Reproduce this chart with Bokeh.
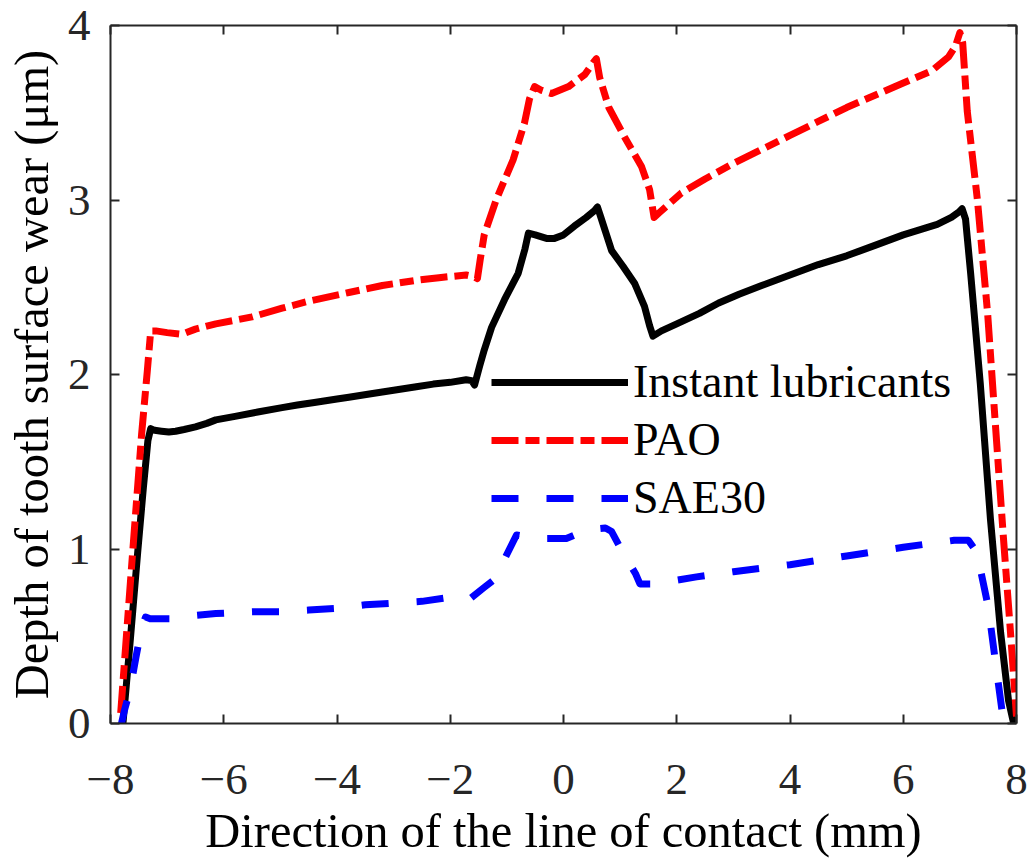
from bokeh.plotting import figure
from bokeh.models import LinearAxis, Legend, LegendItem, FixedTicker, Range1d
from bokeh.embed import file_html
from bokeh.resources import INLINE

# ---------------- data ----------------
x_ticks = [-8, -6, -4, -2, 0, 2, 4, 6, 8]
y_ticks = [0, 1, 2, 3, 4]

inst_x = [-7.78, -7.65, -7.52, -7.42, -7.34, -7.29, -7.22, -7.10, -6.97, -6.85, -6.70, -6.50,
          -6.30, -6.14, -5.80, -5.40, -4.97, -4.70, -4.40, -4.00, -3.79, -3.40, -3.00, -2.60,
          -2.30, -2.00, -1.72, -1.62, -1.57, -1.48, -1.40, -1.27, -1.04, -0.80, -0.68, -0.62,
          -0.50, -0.30, -0.16, 0.00, 0.19, 0.40, 0.55, 0.60, 0.66, 0.74, 0.85, 1.05, 1.26,
          1.43, 1.52, 1.58, 1.73, 2.00, 2.40, 2.74, 3.10, 3.50, 4.00, 4.50, 5.00, 5.50, 6.00,
          6.30, 6.60, 6.85, 6.98, 7.04, 7.10, 7.19, 7.36, 7.54, 7.72, 7.86, 7.95]
inst_y = [0.00, 0.48, 0.98, 1.35, 1.62, 1.69, 1.68, 1.675, 1.67, 1.675, 1.685, 1.70,
          1.72, 1.74, 1.76, 1.785, 1.81, 1.825, 1.84, 1.86, 1.87, 1.89, 1.91, 1.93,
          1.945, 1.955, 1.97, 1.965, 1.94, 2.05, 2.14, 2.27, 2.43, 2.58, 2.72, 2.81,
          2.80, 2.78, 2.78, 2.80, 2.85, 2.90, 2.94, 2.96, 2.90, 2.82, 2.71, 2.62, 2.52,
          2.39, 2.28, 2.22, 2.25, 2.29, 2.35, 2.41, 2.46, 2.51, 2.57, 2.63, 2.68, 2.74, 2.80,
          2.83, 2.86, 2.90, 2.93, 2.95, 2.89, 2.58, 1.95, 1.17, 0.52, 0.13, 0.00]

pao_x = [-7.82, -7.63, -7.45, -7.35, -7.29, -7.20, -7.00, -6.74, -6.50, -6.14, -5.50, -4.97,
         -4.50, -3.79, -3.20, -2.60, -2.20, -1.72, -1.58, -1.52,
         -1.47, -1.40, -1.19, -0.89, -0.69, -0.60, -0.51, -0.40, -0.21, 0.09, 0.38, 0.53,
         0.58, 0.64, 0.80, 1.08, 1.38, 1.52, 1.60, 1.70, 2.08, 2.50, 3.00, 3.50, 4.00, 4.50,
         5.00, 5.50, 6.00, 6.50, 6.80, 6.92, 7.00, 7.05, 7.13, 7.31, 7.49, 7.63, 7.77, 7.89,
         8.00]
pao_y = [0.06, 0.89, 1.66, 2.02, 2.25, 2.25, 2.24, 2.23, 2.26, 2.29, 2.33, 2.38,
         2.42, 2.47, 2.51, 2.54, 2.555, 2.57, 2.56, 2.55,
         2.66, 2.80, 3.00, 3.23, 3.44, 3.58, 3.65, 3.63, 3.61, 3.65, 3.72, 3.79,
         3.81, 3.70, 3.53, 3.36, 3.19, 3.06, 2.90, 2.93, 3.04, 3.12, 3.21, 3.29, 3.37, 3.45,
         3.53, 3.60, 3.67, 3.74, 3.82, 3.88, 3.96, 3.90, 3.51, 3.00, 2.35, 1.70, 1.06, 0.54,
         0.04]

sae_x = [-7.82, -7.75, -7.65, -7.55, -7.45, -7.38, -7.30, -6.92, -6.50, -6.14, -5.50, -5.00,
         -4.50, -4.00, -3.50, -3.00, -2.50, -2.07, -1.63, -1.40, -1.24, -1.06, -0.83, -0.65,
         -0.49, 0.05, 0.42, 0.74, 0.85, 1.03, 1.27, 1.35, 1.60, 2.35, 3.00, 4.00, 5.00, 6.00,
         6.90, 7.15, 7.30, 7.50, 7.65, 7.75, 7.80, 8.00]
sae_y = [-0.02, 0.08, 0.20, 0.38, 0.55, 0.61, 0.60, 0.60, 0.62, 0.63, 0.64, 0.64,
         0.65, 0.66, 0.68, 0.69, 0.70, 0.72, 0.72, 0.78, 0.82, 0.93, 1.08, 1.07,
         1.06, 1.06, 1.11, 1.12, 1.10, 0.99, 0.86, 0.80, 0.80, 0.84, 0.87, 0.91, 0.96, 1.01,
         1.05, 1.05, 0.98, 0.67, 0.30, 0.06, 0.00, 0.00]

series_names = ["Instant lubricants", "PAO", "SAE30"]

# ---------------- figure ----------------
AX = "#262626"
FONT = "Liberation Serif"

p = figure(frame_width=906, frame_height=698, output_backend="svg", toolbar_location=None,
           x_range=Range1d(-8, 8), y_range=Range1d(0, 4),
           min_border_left=110, min_border_right=14, min_border_top=25, min_border_bottom=130,
           background_fill_color="white", border_fill_color="white")
p.outline_line_color = None
p.grid.visible = False

def style_axis(ax, ticks, show_labels):
    ax.ticker = FixedTicker(ticks=ticks)
    ax.axis_line_color = AX
    ax.axis_line_width = 2
    ax.major_tick_line_color = AX
    ax.major_tick_line_width = 2
    ax.major_tick_in = 9
    ax.major_tick_out = 0
    ax.minor_tick_line_color = None
    ax.major_label_text_font = FONT
    ax.major_label_text_color = AX
    if show_labels:
        ax.major_label_text_font_size = "45px"
    else:
        ax.major_label_overrides = {t: "" for t in ticks}
        ax.major_label_text_font_size = "1px"
        ax.major_label_standoff = 0

xa = p.xaxis[0]
ya = p.yaxis[0]
style_axis(xa, x_ticks, True)
style_axis(ya, y_ticks, True)
xa.major_label_overrides = {t: ("\u2212" + str(-t) if t < 0 else str(t)) for t in x_ticks}
xa.major_label_standoff = 41
ya.major_label_standoff = 20
xa.axis_label = "Direction of the line of contact (mm)"
ya.axis_label = "Depth of tooth surface wear (\u03bcm)"
for ax in (xa, ya):
    ax.axis_label_text_font = FONT
    ax.axis_label_text_font_size = "48.5px"
    ax.axis_label_text_font_style = "normal"
    ax.axis_label_text_color = "black"
xa.axis_label_standoff = 7
ya.axis_label_standoff = 7

top = LinearAxis()
right = LinearAxis()
style_axis(top, x_ticks, False)
style_axis(right, y_ticks, False)
p.add_layout(top, "above")
p.add_layout(right, "right")

r1 = p.line(inst_x, inst_y, line_color="black", line_width=7, line_join="round")
r2 = p.line(pao_x, pao_y, line_color="#ff0000", line_width=7, line_dash="27 7 14 7",
            line_join="round")
r3 = p.line(sae_x, sae_y, line_color="#0000ff", line_width=7, line_dash="27 28",
            line_join="round")

legend = Legend(items=[LegendItem(label=series_names[0], renderers=[r1]),
                       LegendItem(label=series_names[1], renderers=[r2]),
                       LegendItem(label=series_names[2], renderers=[r3])],
                location=(381, 199), orientation="vertical",
                border_line_color=None, background_fill_alpha=0,
                label_text_font=FONT, label_text_font_size="46px", label_text_color="black",
                glyph_width=137, glyph_height=40, label_standoff=5, spacing=5,
                padding=0, margin=0, label_height=47)
p.add_layout(legend, "center")

open("out.html", "w").write(file_html(p, INLINE))
